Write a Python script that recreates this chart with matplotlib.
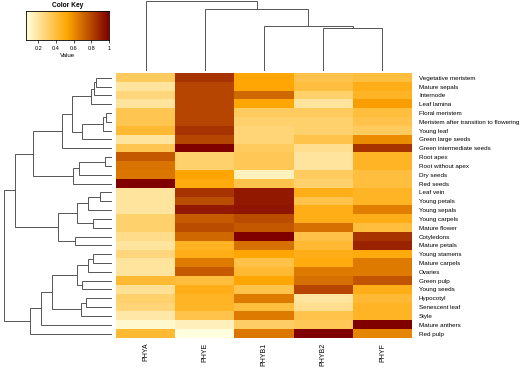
import numpy as np
import matplotlib
matplotlib.use("Agg")
import matplotlib.pyplot as plt
from matplotlib.colors import LinearSegmentedColormap

plt.rcParams['font.family'] = ['Liberation Sans', 'DejaVu Sans']

genes = ["PHYA", "PHYE", "PHYB1", "PHYB2", "PHYF"]
tissues = ["Vegetative meristem", "Mature sepals", "Internode", "Leaf lamina",
           "Floral meristem", "Meristem after transition to flowering", "Young leaf",
           "Green large seeds", "Green intermediate seeds", "Root apex",
           "Root without apex", "Dry seeds", "Red seeds", "Leaf vein", "Young petals",
           "Young sepals", "Young carpels", "Mature flower", "Cotyledons",
           "Mature petals", "Young stamens", "Mature carpels", "Ovaries", "Green pulp",
           "Young seeds", "Hypocotyl", "Senescent leaf", "Style", "Mature anthers",
           "Red pulp"]

# relative expression, one list per gene (rows in tissue order above)
phya = [0.33, 0.20, 0.27, 0.20, 0.36, 0.36, 0.42, 0.20, 0.36, 0.75, 0.67, 0.66, 1.00,
        0.20, 0.20, 0.20, 0.30, 0.30, 0.24, 0.20, 0.27, 0.20, 0.20, 0.42, 0.22,
        0.30, 0.28, 0.18, 0.10, 0.42]
phye = [0.85, 0.80, 0.80, 0.80, 0.80, 0.80, 0.85, 0.80, 1.00, 0.30, 0.30, 0.53, 0.50,
        0.85, 0.78, 0.93, 0.74, 0.78, 0.70, 0.46, 0.48, 0.65, 0.74, 0.40, 0.48,
        0.45, 0.45, 0.37, 0.14, 0.06]
phyb1 = [0.52, 0.52, 0.70, 0.52, 0.33, 0.30, 0.28, 0.28, 0.33, 0.35, 0.35, 0.13, 0.37,
         0.93, 0.93, 0.94, 0.78, 0.75, 1.00, 0.68, 0.52, 0.38, 0.42, 0.52, 0.37,
         0.65, 0.40, 0.65, 0.32, 0.66]
phyb2 = [0.37, 0.40, 0.30, 0.20, 0.33, 0.30, 0.30, 0.37, 0.23, 0.20, 0.20, 0.33, 0.30,
         0.48, 0.37, 0.48, 0.48, 0.68, 0.38, 0.42, 0.48, 0.50, 0.65, 0.68, 0.80,
         0.20, 0.23, 0.37, 0.35, 1.00]
phyf = [0.40, 0.48, 0.45, 0.55, 0.40, 0.37, 0.33, 0.60, 0.85, 0.45, 0.45, 0.40, 0.40,
        0.45, 0.45, 0.64, 0.48, 0.40, 0.85, 0.90, 0.50, 0.65, 0.65, 0.76, 0.48,
        0.42, 0.45, 0.45, 1.00, 0.62]

# column dendrogram merges: (left, right, height), ids >= 5 are earlier merges
col_merges = [(3, 4, 42.7), (2, 5, 45.0), (1, 6, 61.4), (0, 7, 69.7)]

# row dendrogram merges, leaves 0..29, merge k gets id 30+k
row_merges = [
    (0, 1, 15.7), (30, 2, 17.4), (31, 3, 21.0),          # 30,31,32
    (4, 5, 5.7), (33, 6, 9.0), (34, 7, 30.0),            # 33,34,35
    (32, 35, 39.4), (36, 8, 50.0),                        # 36,37
    (9, 10, 6.7), (38, 11, 32.4), (39, 12, 39.0),        # 38,39,40
    (37, 40, 79.0),                                       # 41
    (13, 14, 11.7), (42, 15, 23.4), (16, 17, 18.4),      # 42,43,44
    (43, 44, 35.0), (18, 19, 36.7), (45, 46, 53.7),      # 45,46,47
    (41, 47, 96.7),                                       # 48
    (20, 21, 18.7), (49, 22, 23.7), (23, 24, 29.7),      # 49,50,51
    (50, 51, 34.7), (25, 26, 25.7), (53, 27, 30.7),      # 52,53,54
    (52, 54, 59.7), (55, 28, 70.7), (56, 29, 81.7),      # 55,56,57
    (48, 57, 107.7),                                      # 58
]


def draw_dendro(ax, merges, n, horizontal):
    pos = {i: float(i) for i in range(n)}
    hgt = {i: 0.0 for i in range(n)}
    for k, (a, b, h) in enumerate(merges):
        xs = [pos[a], pos[a], pos[b], pos[b]]
        ys = [hgt[a], h, h, hgt[b]]
        if horizontal:
            ax.plot(ys, xs, color="#555555", lw=0.7, solid_joinstyle="miter")
        else:
            ax.plot(xs, ys, color="#555555", lw=0.7, solid_joinstyle="miter")
        pos[n + k] = (pos[a] + pos[b]) / 2
        hgt[n + k] = h


W, H = 520, 372
fig = plt.figure(figsize=(W / 100, H / 100), dpi=100)

def px_axes(x0, y0, x1, y1):
    return fig.add_axes([x0 / W, 1 - y1 / H, (x1 - x0) / W, (y1 - y0) / H])

cmap = LinearSegmentedColormap.from_list("key", ["#FFFFE0", "#FFA500", "#800000"])
vmin, vmax = 0.06, 1.0

data = np.array([phya, phye, phyb1, phyb2, phyf]).T

# heatmap
ax = px_axes(116, 73.3, 412, 338)
ax.imshow(data, cmap=cmap, vmin=vmin, vmax=vmax, aspect="auto",
          interpolation="nearest", extent=(-0.5, 4.5, 29.5, -0.5))
ax.set_xlim(-0.5, 4.5)
ax.set_ylim(29.5, -0.5)
for s in ax.spines.values():
    s.set_visible(False)
ax.set_xticks(range(5))
ax.set_xticklabels(genes, rotation=90, fontsize=5)
ax.set_yticks(range(30))
ax.set_yticklabels(tissues, fontsize=4.5)
ax.yaxis.tick_right()
ax.tick_params(length=0)
ax.tick_params(axis="y", pad=5)
ax.tick_params(axis="x", pad=3.5)

# row dendrogram
axr = px_axes(4, 73.3, 111.7, 338)
draw_dendro(axr, row_merges, 30, horizontal=True)
axr.set_xlim(107.7, 0)
axr.set_ylim(29.5, -0.5)
axr.axis("off")

# column dendrogram
axc = px_axes(116, 1, 412, 70.7)
draw_dendro(axc, col_merges, 5, horizontal=False)
axc.set_xlim(-0.5, 4.5)
axc.set_ylim(0, 69.7)
axc.axis("off")

# color key
axk = px_axes(26, 11.3, 109, 40)
grad = np.linspace(vmin, vmax, 256)[None, :]
axk.imshow(grad, cmap=cmap, vmin=vmin, vmax=vmax, aspect="auto",
           extent=(vmin, vmax, 0, 1))
axk.set_xlim(vmin, vmax)
axk.set_yticks([])
axk.set_xticks([0.2, 0.4, 0.6, 0.8, 1.0])
axk.set_xticklabels(["0.2", "0.4", "0.6", "0.8", "1"], fontsize=4)
axk.tick_params(axis="x", length=2.5, width=0.5, pad=2)
for s in axk.spines.values():
    s.set_linewidth(0.6)
axk.set_title("Color Key", fontsize=4.8, fontweight="bold", pad=3)
axk.set_xlabel("Value", fontsize=4.4, labelpad=1.5)

fig.savefig("out.png", dpi=100)
